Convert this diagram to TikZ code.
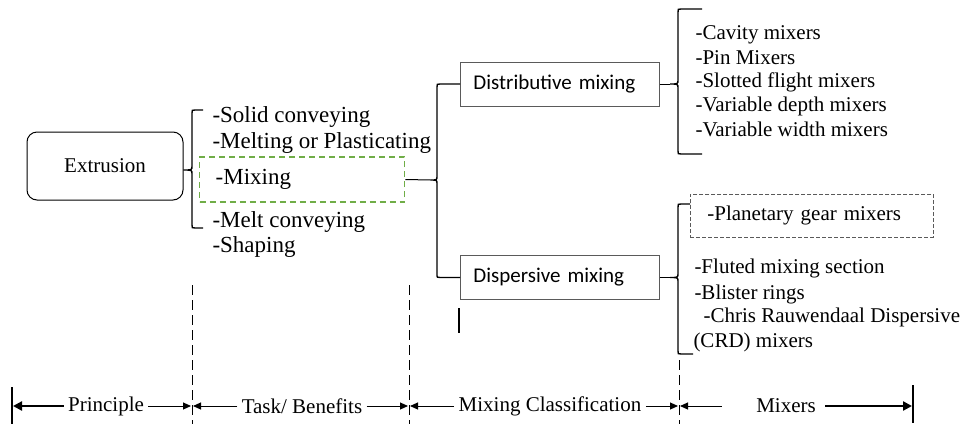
\documentclass[tikz,border=0pt]{standalone}
\usepackage{fontspec}
\setmainfont{Liberation Serif}
\newfontfamily\boxfont{Carlito}
\usetikzlibrary{arrows.meta}
\definecolor{mixgreen}{RGB}{112,173,71}
\definecolor{boxgray}{RGB}{90,90,90}

\begin{document}
\begin{tikzpicture}[x=1pt,y=-1pt,line width=1pt,
  item/.style={anchor=west,inner sep=0pt,text height=14pt,text depth=4.5pt,font=\fontsize{21}{25}\selectfont},
  task/.style={item,text height=15.5pt,text depth=5pt,font=\fontsize{23}{27}\selectfont},
  lab/.style={inner xsep=4pt,inner ysep=0pt,font=\fontsize{21}{25}\selectfont},
  mixbox/.style={draw=boxgray,line width=.9pt,anchor=west,minimum height=44pt,inner xsep=13pt,inner ysep=0pt,
    text width=173pt,align=left,font=\boxfont\fontsize{21}{25}\selectfont},
  brc/.style={line width=1.4pt},
  divline/.style={line width=1pt,dash pattern=on 10pt off 5pt},
  arr/.style={-{Triangle[length=8pt,width=7pt]}},
  bigarr/.style={line width=2.4pt,-{Triangle[length=9pt,width=9pt]}},
]
\useasboundingbox (0,0) rectangle (967,424);

% principle and tasks
\node[draw,rounded corners=10pt,minimum width=156pt,minimum height=68pt,font=\fontsize{21}{25}\selectfont] (ext) at (105,166) {Extrusion};
\node[task] (sol) at (212,117) {-Solid conveying};
\node[task] (mel) at (212,143) {-Melting or Plasticating};
\node[draw=mixgreen,line width=1.4pt,dash pattern=on 6pt off 4pt,anchor=west,inner xsep=16pt,inner ysep=0pt,
  text width=173pt,align=left,minimum height=45pt,text height=15.5pt,text depth=5pt,
  font=\fontsize{23}{27}\selectfont] (mix) at (199,179.5) {-Mixing};
\node[task] (mco) at (212,222) {-Melt conveying};
\node[task] (sha) at (212,247) {-Shaping};

\coordinate (t1) at ([yshift=-4pt]ext.east);
\draw[brc] (203,110) -- (195,110) .. controls (192,110) .. (192,113) -- (192,166)
  .. controls (192,170) .. (t1) .. controls (192,170) .. (192,174) -- (192,225)
  .. controls (192,228) .. (195,228) -- (203,228);

% classification
\node[mixbox] (dis) at (460,84) {Distributive mixing};
\node[mixbox] (dsp) at (460,277.5) {Dispersive mixing};

\coordinate (t2) at (431,180);
\draw (mix.east) -- (t2);
\draw[brc] (dis.west) -- (440,84) .. controls (437,84) .. (437,87) -- (437,176)
  .. controls (437,180) .. (t2) .. controls (437,180) .. (437,184) -- (437,274)
  .. controls (437,277.5) .. (440,277.5) -- (dsp.west);

% distributive mixers
\coordinate (t3) at (670,84);
\draw (dis.east) -- (t3);
\draw[brc] (702,9) -- (681,9) .. controls (678,9) .. (678,12) -- (678,80)
  .. controls (678,84) .. (t3) .. controls (678,84) .. (678,88) -- (678,151)
  .. controls (678,154) .. (681,154) -- (702,154);

\node[item] (cav) at (695,35) {-Cavity mixers};
\node[item] (pin) at (695,60) {-Pin Mixers};
\node[item] (slo) at (695,83) {-Slotted flight mixers};
\node[item] (vdm) at (695,107) {-Variable depth mixers};
\node[item] (vwm) at (695,132) {-Variable width mixers};

% dispersive mixers
\node[draw=boxgray,line width=.8pt,dash pattern=on 4pt off 2pt,anchor=west,inner xsep=17pt,inner ysep=0pt,
  text width=209pt,align=left,minimum height=43pt,text height=14pt,text depth=4.5pt,
  font=\fontsize{21}{25}\selectfont] (pla) at (690,215.5) {-Planetary gear mixers};
\node[item] (flu) at (694,269) {-Fluted mixing section};
\node[item] (bli) at (694,295) {-Blister rings};
\node[item] (crd) at (703,318) {-Chris Rauwendaal Dispersive};
\node[item] (crm) at (693,343) {(CRD) mixers};

\coordinate (t4) at (670,277.5);
\coordinate (p4) at ([yshift=11.5pt]pla.west);
\coordinate (c4) at ([yshift=-11pt]crm.west);
\draw (dsp.east) -- (t4);
\draw[brc] (p4) -- (681,204) .. controls (678,204) .. (678,207) -- (678,273.5)
  .. controls (678,277.5) .. (t4) .. controls (678,277.5) .. (678,281.5) -- (678,351)
  .. controls (678,354) .. (681,354) -- (c4);

\draw[line width=1.3pt] (459,308) -- (459,333);

% scale at the bottom
\draw[divline] (192,285) -- (192,424);
\draw[divline] (409,285) -- (409,424);
\draw[divline] (679,360) -- (679,424);
\draw[line width=2.4pt] (12,387) -- (12,424);
\draw[line width=2.4pt] (913,385) -- (913,423);

\node[lab] (prin) at (106,406) {Principle};
\node[lab] (task) at (302,406) {Task/ Benefits};
\node[lab] (mcl) at (550,406) {Mixing Classification};
\node[lab] (mxr) at (786,406) {Mixers};

\coordinate (e0) at (13,406);
\coordinate (d1l) at (191,406);
\coordinate (d1r) at (193,406);
\coordinate (d2l) at (408,406);
\coordinate (d2r) at (410,406);
\coordinate (d3l) at (678,406);
\coordinate (d3r) at (680,406);
\coordinate (e4) at (912,406);

\draw[bigarr] (prin.west) -- (e0);
\draw[arr] (prin.east) -- (d1l);
\draw[arr] (task.west) -- (d1r);
\draw[arr] (task.east) -- (d2l);
\draw[arr] (mcl.west) -- (d2r);
\draw[arr] (mcl.east) -- (d3l);
\draw[arr] ([xshift=-30pt]mxr.west) -- (d3r);
\draw[bigarr] ([xshift=5pt]mxr.east) -- (e4);
\end{tikzpicture}
\end{document}
